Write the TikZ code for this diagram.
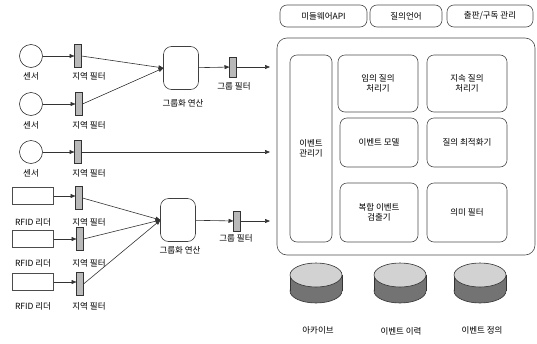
\documentclass[tikz,border=0pt]{standalone}
\usepackage{fontspec}
\setmainfont{Noto Sans CJK KR}
\usetikzlibrary{shapes.geometric,arrows.meta}
\begin{document}
\begin{tikzpicture}[x=1pt,y=-1pt,
  every node/.style={font=\fontsize{8.5}{10.5}\selectfont, inner sep=0pt, outer sep=0pt},
  sensor/.style={draw=black!80, circle, minimum size=23pt, line width=0.6pt},
  reader/.style={draw=black!70, rectangle, minimum width=41pt, minimum height=17pt, line width=0.6pt},
  filt/.style={draw=black!80, rectangle, fill=gray!55, minimum width=7pt, minimum height=23pt, line width=0.5pt},
  gfilt/.style={draw=black!80, rectangle, fill=gray!55, minimum width=7pt, minimum height=20pt, line width=0.5pt},
  grp/.style={draw=black!75, rounded corners=8pt, minimum width=35pt, minimum height=43pt, line width=0.6pt},
  box/.style={draw=black!70, rounded corners=7pt, align=center, line width=0.6pt},
  lbl/.style={font=\fontsize{8.5}{10.5}\selectfont},
  conn/.style={draw=black!80, line width=0.6pt, -{Triangle[length=5pt,width=4pt]}},
  dbbody/.style={fill=black!55},
  dbtop/.style={fill=gray!35, draw=black!80, line width=0.6pt},
  dbline/.style={draw=black!80, line width=0.6pt}
]
\useasboundingbox (0,0) rectangle (537,343);

% sensors
\node[sensor] (s1) at (31,56) {};
\node[sensor] (s2) at (31,104) {};
\node[sensor] (s3) at (31,152) {};
\node[lbl] (ls1) at (31,76) {센서};
\node[lbl] (ls2) at (31,125) {센서};
\node[lbl] (ls3) at (31,173) {센서};

% local filters for sensors
\node[filt] (f1) at (78,56) {};
\node[filt] (f2) at (79,104) {};
\node[filt] (f3) at (78,152) {};
\node[lbl] (lf1) at (89,76) {지역 필터};
\node[lbl] (lf2) at (89,125) {지역 필터};
\node[lbl] (lf3) at (89,173) {지역 필터};

% group op 1
\node[grp] (g1) at (181,68) {};
\node[lbl] (lg1) at (183,103) {그룹화 연산};
\node[gfilt] (gf1) at (233,67) {};
\node[lbl] (lgf1) at (234,86) {그룹 필터};
\coordinate (e1) at (270,67);
\coordinate (e3) at (270,152);

\draw[conn] (s1) -- (f1);
\draw[conn] (s2) -- (f2);
\draw[conn] (s3) -- (f3);
\draw[conn] (f1.east) -- (g1.west);
\draw[conn] (f2.east) -- (g1.west);
\draw[conn] (g1) -- (gf1);
\draw[conn] (gf1) -- (e1);
\draw[conn] (f3) -- (e3);

% RFID readers
\node[reader] (r1) at (33,196) {};
\node[reader] (r2) at (33,239) {};
\node[reader] (r3) at (33,282) {};
\node[lbl] (lr1) at (33,222) {RFID 리더};
\node[lbl] (lr2) at (33,263) {RFID 리더};
\node[lbl] (lr3) at (33,306) {RFID 리더};

\node[filt] (f4) at (79,198) {};
\node[filt] (f5) at (80,239) {};
\node[filt] (f6) at (80,284) {};
\node[lbl] (lf4) at (89,222) {지역 필터};
\node[lbl] (lf5) at (89,263) {지역 필터};
\node[lbl] (lf6) at (89,306) {지역 필터};

\node[grp] (g2) at (178,220) {};
\node[lbl] (lg2) at (180,250) {그룹화 연산};
\node[gfilt] (gf2) at (237,221) {};
\node[lbl] (lgf2) at (236,238) {그룹 필터};
\coordinate (e2) at (270,221);

\draw[conn] (r1.east) -- (f4.west |- r1.east);
\draw[conn] (r2) -- (f5);
\draw[conn] (r3.east) -- (f6.west |- r3.east);
\draw[conn] (f4.east) -- (g2.west);
\draw[conn] (f5.east) -- (g2.west);
\draw[conn] (f6.east) -- (g2.west);
\draw[conn] (g2) -- (gf2);
\draw[conn] (gf2) -- (e2);

% right side top boxes
\node[box, minimum width=87pt, minimum height=22pt] (api) at (323.5,16) {미들웨어API};
\node[box, minimum width=72pt, minimum height=22pt] (ql) at (406,16) {질의언어};
\node[box, minimum width=86pt, minimum height=22pt] (ps) at (490,16) {출판/구독 관리};

% big container
\node[box, rounded corners=10pt, minimum width=258pt, minimum height=217pt] (core) at (406,146.5) {};

\node[box, minimum width=42pt, minimum height=187pt] (em) at (311,148.5) {이벤트\\관리기};
\node[box, minimum width=80pt, minimum height=57pt] (adq) at (378,83.5) {임의 질의\\처리기};
\node[box, minimum width=80pt, minimum height=57pt] (cq) at (467,83.5) {지속 질의\\처리기};
\node[box, minimum width=78pt, minimum height=49pt] (model) at (379,142.5) {이벤트 모델};
\node[box, minimum width=80pt, minimum height=49pt] (opt) at (467,142.5) {질의 최적화기};
\node[box, minimum width=78pt, minimum height=59pt] (cep) at (379,212.5) {복합 이벤트\\검출기};
\node[box, minimum width=80pt, minimum height=59pt] (sem) at (467,212.5) {의미 필터};

% databases (drawn directly)
\foreach \cx in {316,400,480}{
  \filldraw[dbbody, dbline] (\cx,291) ellipse [x radius=26, y radius=12];
  \fill[dbbody] (\cx-26,275) rectangle (\cx+26,291);
  \draw[dbline] (\cx-26,275) -- (\cx-26,291);
  \draw[dbline] (\cx+26,275) -- (\cx+26,291);
  \filldraw[dbtop] (\cx,275) ellipse [x radius=26, y radius=12];
}
\node[lbl] (ld1) at (318,330) {아카이브};
\node[lbl] (ld2) at (401,331) {이벤트 이력};
\node[lbl] (ld3) at (482,330) {이벤트 정의};
\end{tikzpicture}
\end{document}
